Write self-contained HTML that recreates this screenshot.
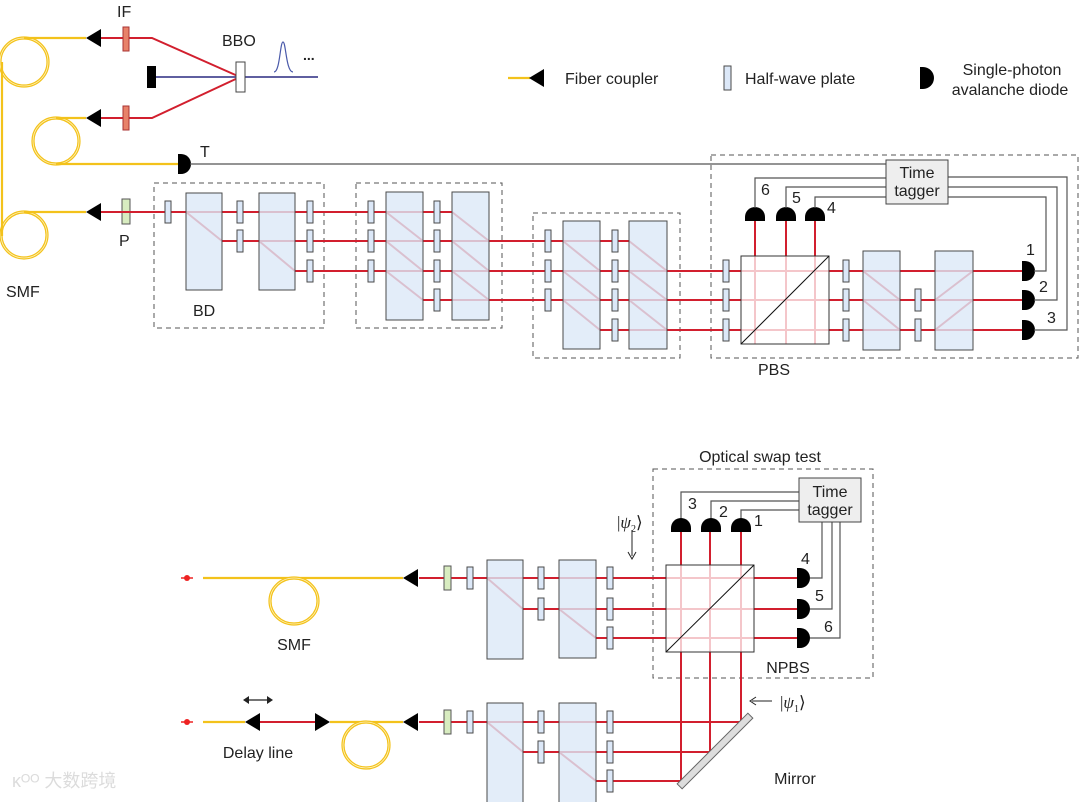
<!DOCTYPE html>
<html><head><meta charset="utf-8"><style>
html,body{margin:0;padding:0;background:#fff;}
svg{display:block;font-family:"Liberation Sans","Noto Sans CJK SC",sans-serif;}
.r{stroke:#d21f2e;stroke-width:2;fill:none}
.y{stroke:#f3c21b;stroke-width:2.2;fill:none}
.yl{stroke:#f3c21b;stroke-width:3.2;fill:none}
.yi{stroke:#fff3c0;stroke-width:0.8;fill:none}
.bd{fill:#dce8f8;fill-opacity:0.8;stroke:#4a4a4a;stroke-width:1}
.hw{fill:#dce8f8;stroke:#4a4a4a;stroke-width:1}
.w{stroke:#555;stroke-width:1.2;fill:none}
.d{fill:none;stroke:#555;stroke-width:1;stroke-dasharray:5,4}
text{font-size:16px;fill:#222}
</style></head><body>
<svg width="1080" height="802" viewBox="0 0 1080 802" xmlns="http://www.w3.org/2000/svg">
<defs>
<path id="dr" d="M0,-10 h3 a10,10 0 0 1 0,20 h-3 z" fill="#000"/>
<path id="du" d="M-10,0 v-4 a10,10 0 0 1 20,0 v4 z" fill="#000"/>
<path id="cl" d="M0,0 L15,-9 L15,9 z" fill="#000"/>
<path id="cr" d="M0,-9 L15,0 L0,9 z" fill="#000"/>
<rect id="hp" x="-3" y="-11" width="6" height="22" class="hw"/>
</defs>

<!-- ===== TOP ===== -->
<circle cx="24" cy="62" r="24" class="yl"/><circle cx="24" cy="62" r="24" class="yi"/>
<circle cx="56" cy="141" r="23" class="yl"/><circle cx="56" cy="141" r="23" class="yi"/>
<circle cx="24" cy="235" r="23" class="yl"/><circle cx="24" cy="235" r="23" class="yi"/>
<path class="y" d="M24 38 H86 M56 118 H86 M56 164 H178 M24 212 H86 M2 62 V236"/>
<use href="#cl" x="86" y="38"/><use href="#cl" x="86" y="118"/><use href="#cl" x="86" y="212"/>
<path class="r" d="M101 38 H152 L240 77 M101 118 H152 L240 77"/>
<line x1="156" y1="77" x2="318" y2="77" stroke="#2a2a80" stroke-width="1.6"/>
<rect x="147" y="66" width="9" height="22" fill="#000"/>
<rect x="236" y="62" width="9" height="30" fill="#fff" stroke="#444"/>
<path d="M274 72 C280 72 280 42 283 42 C286 42 286 72 293 72" fill="none" stroke="#4a5aaa" stroke-width="1.2"/>
<text x="303" y="60" style="font-size:14px;font-weight:bold">...</text>
<rect x="123" y="27" width="6" height="24" fill="#e8826a" stroke="#a33"/>
<rect x="123" y="106" width="6" height="24" fill="#e8826a" stroke="#a33"/>
<text x="117" y="17">IF</text>
<text x="222" y="46">BBO</text>
<use href="#dr" x="178" y="164"/>
<text x="200" y="157">T</text>
<line x1="190" y1="164" x2="886" y2="164" class="w"/>
<rect x="122" y="199" width="8" height="25" fill="#d8ecc0" stroke="#555"/>
<text x="119" y="246">P</text>
<text x="6" y="297">SMF</text>
<text x="193" y="316">BD</text>
<text x="758" y="375">PBS</text>

<rect x="154" y="183" width="170" height="145" class="d"/>
<rect x="356" y="183" width="146" height="145" class="d"/>
<rect x="533" y="213" width="147" height="145" class="d"/>
<rect x="711" y="155" width="367" height="203" class="d"/>

<path class="r" d="M101 212 H452 M222 241 H629 M295 271 H1022 M423 300 H1022 M600 330 H1022"/>
<path class="r" d="M186 212 L222 241 M259 241 L295 271
M386 212 L423 241 M386 241 L423 271 M386 271 L423 300
M452 212 L489 241 M452 241 L489 271 M452 271 L489 300
M563 241 L600 271 M563 271 L600 300 M563 300 L600 330
M629 241 L667 271 M629 271 L667 300 M629 300 L667 330
M863 271 L900 300 M863 300 L900 330
M935 300 L973 271 M935 330 L973 300
M755 221 V344 M786 221 V344 M815 221 V344"/>
<rect x="186" y="193" width="36" height="97" class="bd"/>
<rect x="259" y="193" width="36" height="97" class="bd"/>
<rect x="386" y="192" width="37" height="128" class="bd"/>
<rect x="452" y="192" width="37" height="128" class="bd"/>
<rect x="563" y="221" width="37" height="128" class="bd"/>
<rect x="629" y="221" width="38" height="128" class="bd"/>
<rect x="863" y="251" width="37" height="99" class="bd"/>
<rect x="935" y="251" width="38" height="99" class="bd"/>
<rect x="741" y="256" width="88" height="88" fill="#fff" fill-opacity="0.75" stroke="#333"/>
<line x1="741" y1="344" x2="829" y2="256" stroke="#111" stroke-width="1"/>
<use href="#hp" x="168" y="212"/>
<use href="#hp" x="240" y="212"/><use href="#hp" x="240" y="241"/>
<use href="#hp" x="310" y="212"/><use href="#hp" x="310" y="241"/><use href="#hp" x="310" y="271"/>
<use href="#hp" x="371" y="212"/><use href="#hp" x="371" y="241"/><use href="#hp" x="371" y="271"/>
<use href="#hp" x="437" y="212"/><use href="#hp" x="437" y="241"/><use href="#hp" x="437" y="271"/><use href="#hp" x="437" y="300"/>
<use href="#hp" x="548" y="241"/><use href="#hp" x="548" y="271"/><use href="#hp" x="548" y="300"/>
<use href="#hp" x="615" y="241"/><use href="#hp" x="615" y="271"/><use href="#hp" x="615" y="300"/><use href="#hp" x="615" y="330"/>
<use href="#hp" x="726" y="271"/><use href="#hp" x="726" y="300"/><use href="#hp" x="726" y="330"/>
<use href="#hp" x="846" y="271"/><use href="#hp" x="846" y="300"/><use href="#hp" x="846" y="330"/>
<use href="#hp" x="918" y="300"/><use href="#hp" x="918" y="330"/>
<use href="#du" x="755" y="221"/><use href="#du" x="786" y="221"/><use href="#du" x="815" y="221"/>
<use href="#dr" x="1022" y="271"/><use href="#dr" x="1022" y="300"/><use href="#dr" x="1022" y="330"/>
<path class="w" d="M886 178 H755 V208 M886 187 H786 V208 M886 197 H815 V208
M948 177 H1067 V330 H1034 M948 187 H1057 V300 H1034 M948 197 H1046 V271 H1034"/>
<rect x="886" y="160" width="62" height="44" fill="#eee" stroke="#444"/>
<text x="917" y="178" text-anchor="middle">Time</text>
<text x="917" y="196" text-anchor="middle">tagger</text>
<text x="761" y="195">6</text><text x="792" y="203">5</text><text x="827" y="213">4</text>
<text x="1026" y="255">1</text><text x="1039" y="292">2</text><text x="1047" y="323">3</text>

<line x1="508" y1="78" x2="530" y2="78" class="y"/>
<use href="#cl" x="529" y="78"/>
<text x="565" y="84">Fiber coupler</text>
<rect x="724" y="66" width="7" height="24" class="hw"/>
<text x="745" y="84">Half-wave plate</text>
<path d="M920,67 h3 a11,11 0 0 1 0,22 h-3 z" fill="#000"/>
<text x="1012" y="75" text-anchor="middle">Single-photon</text>
<text x="1010" y="95" text-anchor="middle">avalanche diode</text>

<!-- ===== BOTTOM ===== -->
<rect x="653" y="469" width="220" height="209" class="d"/>
<text x="760" y="462" text-anchor="middle">Optical swap test</text>
<circle cx="187" cy="578" r="3" fill="#e22"/><line x1="181" y1="578" x2="193" y2="578" stroke="#e22" stroke-width="1.5"/>
<line x1="203" y1="578" x2="403" y2="578" class="y"/>
<ellipse cx="294" cy="601" rx="24" ry="23" class="yl"/><ellipse cx="294" cy="601" rx="24" ry="23" class="yi"/>
<use href="#cl" x="403" y="578"/>
<circle cx="187" cy="722" r="3" fill="#e22"/><line x1="181" y1="722" x2="193" y2="722" stroke="#e22" stroke-width="1.5"/>
<line x1="203" y1="722" x2="245" y2="722" class="y"/>
<use href="#cl" x="245" y="722"/>
<line x1="260" y1="722" x2="315" y2="722" class="r"/>
<use href="#cr" x="315" y="722"/>
<line x1="330" y1="722" x2="403" y2="722" class="y"/>
<ellipse cx="366" cy="745" rx="23" ry="23" class="yl"/><ellipse cx="366" cy="745" rx="23" ry="23" class="yi"/>
<use href="#cl" x="403" y="722"/>
<path class="r" d="M419 578 H797 M523 609 H797 M596 638 H797 M487 578 L523 609 M559 609 L596 638
M419 722 H741 M523 752 H710 M596 781 H681 M487 722 L523 752 M559 752 L596 781
M681 532 V781 M710 532 V752 M741 532 V722"/>
<rect x="487" y="560" width="36" height="99" class="bd"/>
<rect x="559" y="560" width="37" height="98" class="bd"/>
<rect x="487" y="703" width="36" height="105" class="bd"/>
<rect x="559" y="703" width="37" height="105" class="bd"/>
<rect x="666" y="565" width="88" height="87" fill="#fff" fill-opacity="0.75" stroke="#333"/>
<line x1="666" y1="652" x2="754" y2="565" stroke="#111"/>
<rect x="444" y="566" width="7" height="24" fill="#d8ecc0" stroke="#555"/>
<rect x="444" y="710" width="7" height="24" fill="#d8ecc0" stroke="#555"/>
<use href="#hp" x="470" y="578"/><use href="#hp" x="541" y="578"/><use href="#hp" x="541" y="609"/>
<use href="#hp" x="610" y="578"/><use href="#hp" x="610" y="609"/><use href="#hp" x="610" y="638"/>
<use href="#hp" x="470" y="722"/><use href="#hp" x="541" y="722"/><use href="#hp" x="541" y="752"/>
<use href="#hp" x="610" y="722"/><use href="#hp" x="610" y="752"/><use href="#hp" x="610" y="781"/>
<g transform="translate(715,751) rotate(-45)"><rect x="-50" y="-3.5" width="100" height="7" fill="#ddd" stroke="#666"/></g>
<use href="#du" x="681" y="532"/><use href="#du" x="711" y="532"/><use href="#du" x="741" y="532"/>
<use href="#dr" x="797" y="578"/><use href="#dr" x="797" y="609"/><use href="#dr" x="797" y="638"/>
<path class="w" d="M799 492 H681 V518 M799 501 H711 V518 M799 510 H741 V518
M822 522 V578 H810 M832 522 V609 H810 M840 522 V638 H810"/>
<rect x="799" y="478" width="62" height="44" fill="#eee" stroke="#444"/>
<text x="830" y="497" text-anchor="middle">Time</text>
<text x="830" y="515" text-anchor="middle">tagger</text>
<text x="688" y="509">3</text><text x="719" y="517">2</text><text x="754" y="526">1</text>
<text x="801" y="564">4</text><text x="815" y="601">5</text><text x="824" y="632">6</text>
<text x="788" y="673" text-anchor="middle">NPBS</text>
<text x="294" y="650" text-anchor="middle">SMF</text>
<text x="258" y="758" text-anchor="middle">Delay line</text>
<text x="795" y="784" text-anchor="middle">Mirror</text>
<path d="M246 700 H270" stroke="#222" stroke-width="1.3"/>
<path d="M243 700 L249 696 L249 704 z M273 700 L267 696 L267 704 z" fill="#222"/>
<line x1="632" y1="530" x2="632" y2="556" stroke="#222"/>
<path d="M628 552 L632 559 L636 552" fill="none" stroke="#222"/>
<line x1="752" y1="701" x2="772" y2="701" stroke="#222"/>
<path d="M756 697 L750 701 L756 705" fill="none" stroke="#222"/>
<text x="617" y="528" style="font-family:'Liberation Serif',serif;font-size:17px">|<tspan font-style="italic">ψ</tspan><tspan style="font-size:10px" dy="4">2</tspan><tspan dy="-4">⟩</tspan></text>
<text x="780" y="708" style="font-family:'Liberation Serif',serif;font-size:17px">|<tspan font-style="italic">ψ</tspan><tspan style="font-size:10px" dy="4">1</tspan><tspan dy="-4">⟩</tspan></text>
<text x="12" y="787" style="font-size:18px;fill:#dcdcdc">ᴋᴼᴼ 大数跨境</text>
</svg>
</body></html>
